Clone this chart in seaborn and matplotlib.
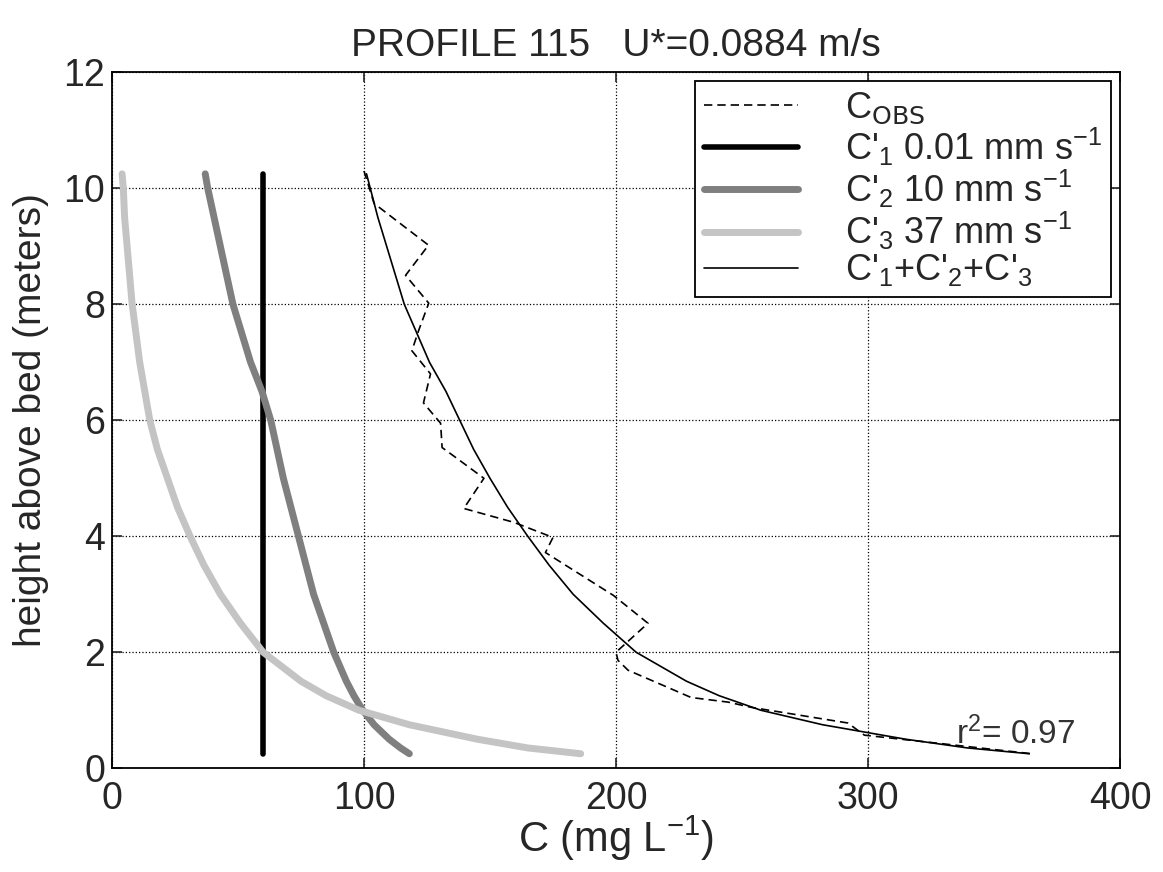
import numpy as np
import matplotlib
matplotlib.use("Agg")
import matplotlib.pyplot as plt
import seaborn as sns

# heights above bed (m) at which the component profiles were read
z_model = [10.25, 10.0, 9.5, 9.0, 8.5, 8.0, 7.5, 7.0, 6.5, 6.0, 5.5, 5.0, 4.5, 4.0,
           3.5, 3.0, 2.5, 2.0, 1.5, 1.25, 1.0, 0.75, 0.5, 0.35, 0.25]
c1 = [60] * len(z_model)
c2 = [37, 38, 40.5, 43, 45.5, 48, 51.5, 55, 59.5, 63, 65.5, 68, 71, 74,
      77, 80, 84, 88, 93, 96, 99.5, 104, 110, 114.5, 118]
c3 = [4, 4.5, 5, 6, 7, 8, 9.5, 11, 13, 15, 18, 22, 26, 31,
      36.5, 43, 51, 60, 75, 85, 98, 118, 145, 165, 186]
c_sum = [a + b + c for a, b, c in zip(c1, c2, c3)]

# observed profile (dashed)
z_obs = [10.3, 9.74, 9.02, 8.5, 8.02, 7.55, 7.2, 6.8, 6.3, 5.95, 5.53, 5.34, 5.0,
         4.48, 4.24, 3.98, 3.72, 2.98, 2.5, 2.0, 1.86, 1.69, 1.22, 1.14, 1.05,
         0.78, 0.57, 0.42, 0.25]
c_obs = [100, 104, 125.6, 116.5, 125.7, 121.7, 119, 126.4, 123.6, 130.4, 131, 137, 147.6,
         139.6, 159.5, 175, 172, 199, 212.7, 200, 200.8, 204.8, 229.8, 244.5, 253.7,
         292, 298.6, 330, 365]

labels = [r"C$_{\mathrm{OBS}}$",
          r"C$'_{1}$ 0.01 mm s$^{-1}$",
          r"C$'_{2}$ 10 mm s$^{-1}$",
          r"C$'_{3}$ 37 mm s$^{-1}$",
          r"C$'_{1}$+C$'_{2}$+C$'_{3}$"]

sns.set_style("white")
plt.rcParams["font.family"] = ["Liberation Sans", "DejaVu Sans"]
plt.rcParams["mathtext.default"] = "regular"

fig = plt.figure(figsize=(11.63, 8.72), dpi=100)
ax = fig.add_axes([0.0963, 0.119, 0.8667, 0.798])

sns.lineplot(x=c_obs, y=z_obs, sort=False, estimator=None, ax=ax,
             color="black", lw=1.2, linestyle=(0, (5, 3)), label=labels[0])
sns.lineplot(x=c1, y=z_model, sort=False, estimator=None, ax=ax,
             color="black", lw=4.0, label=labels[1])
sns.lineplot(x=c2, y=z_model, sort=False, estimator=None, ax=ax,
             color="#7f7f7f", lw=5.0, label=labels[2])
sns.lineplot(x=c3, y=z_model, sort=False, estimator=None, ax=ax,
             color="#c4c4c4", lw=5.0, label=labels[3])
sns.lineplot(x=c_sum, y=z_model, sort=False, estimator=None, ax=ax,
             color="black", lw=1.2, label=labels[4])

ax.set_xlim(0, 400)
ax.set_ylim(0, 12)
ax.set_xticks([0, 100, 200, 300, 400])
ax.set_yticks([0, 2, 4, 6, 8, 10, 12])
ax.grid(True, color="black", linestyle=":", linewidth=0.9)
ax.tick_params(direction="in", length=7, width=1.2, labelsize=27,
               top=True, right=True, bottom=True, left=True)
ax.tick_params(axis="x", pad=9)
ax.tick_params(axis="y", pad=5)
for sp in ax.spines.values():
    sp.set_color("black")
    sp.set_linewidth(1.3)

ax.set_xlabel(r"C (mg L$^{-1}$)", fontsize=30, labelpad=-2)
ax.set_ylabel("height above bed (meters)", fontsize=28, labelpad=10)
ax.set_title("PROFILE 115   U*=0.0884 m/s", fontsize=28, pad=12)

ax.text(335, 0.6, r"r$^{2}$= 0.97", fontsize=24, color="#333333", va="center")

leg = ax.legend(loc="upper right", fontsize=26, frameon=True, fancybox=False,
                edgecolor="black", handlelength=2.6, handletextpad=1.3,
                labelspacing=0.0, borderaxespad=0.25, borderpad=0.25,
                framealpha=1)
leg.get_frame().set_linewidth(1.3)

fig.savefig("out.png", dpi=100)
